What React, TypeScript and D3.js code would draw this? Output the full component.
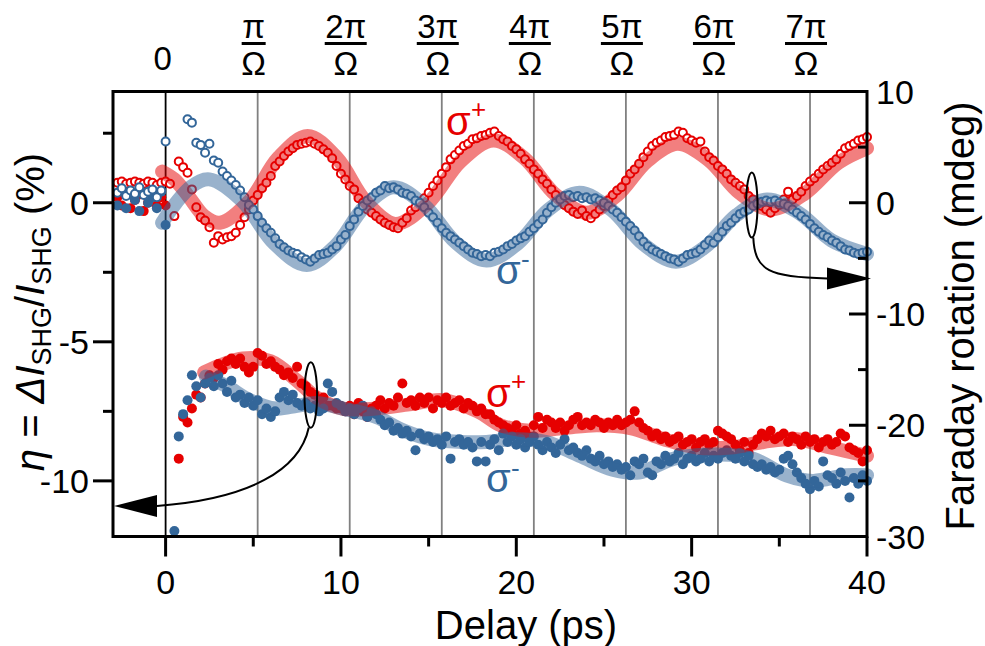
import React from "react";
import * as d3 from "d3";

// ---------- data ----------
const delays: number[] = [
  -2.75, -2.5, -2.25, -2, -1.75, -1.5, -1.25, -1, -0.75, -0.5, -0.25,
  0, 0.25, 0.5, 0.75, 1, 1.25, 1.5, 1.75, 2, 2.25, 2.5, 2.75, 3, 3.25, 3.5, 3.75,
  4, 4.25, 4.5, 4.75, 5, 5.25, 5.5, 5.75, 6, 6.25, 6.5, 6.75, 7, 7.25, 7.5, 7.75,
  8, 8.25, 8.5, 8.75, 9, 9.25, 9.5, 9.75, 10, 10.25, 10.5, 10.75, 11, 11.25, 11.5, 11.75,
  12, 12.25, 12.5, 12.75, 13, 13.25, 13.5, 13.75, 14, 14.25, 14.5, 14.75, 15, 15.25, 15.5, 15.75,
  16, 16.25, 16.5, 16.75, 17, 17.25, 17.5, 17.75, 18, 18.25, 18.5, 18.75, 19, 19.25, 19.5, 19.75,
  20, 20.25, 20.5, 20.75, 21, 21.25, 21.5, 21.75, 22, 22.25, 22.5, 22.75, 23, 23.25, 23.5, 23.75,
  24, 24.25, 24.5, 24.75, 25, 25.25, 25.5, 25.75, 26, 26.25, 26.5, 26.75, 27, 27.25, 27.5, 27.75,
  28, 28.25, 28.5, 28.75, 29, 29.25, 29.5, 29.75, 30, 30.25, 30.5, 30.75, 31, 31.25, 31.5, 31.75,
  32, 32.25, 32.5, 32.75, 33, 33.25, 33.5, 33.75, 34, 34.25, 34.5, 34.75, 35, 35.25, 35.5, 35.75,
  36, 36.25, 36.5, 36.75, 37, 37.25, 37.5, 37.75, 38, 38.25, 38.5, 38.75, 39, 39.25, 39.5, 39.75,
  40,
];

// Faraday rotation (mdeg), open circles
const faradaySigmaPlus: (number | null)[] = [
  1.8, 1.9, 1.7, 1.8, 1.9, 1.8, 1.7, 1.9, 1.8, 1.6, 1.8,
  1.9, 1.7, -1.2, 3.7, 3.2, 2.7, 1.2, -0.4, -1.3, -1.6, -2.2, -3.6, -3.0, -3.3, -3.1, -3.0,
  -2.7, -2.0, -1.3, -0.6, 0.2, 0.7, 1.3, 1.8, 2.4, 3.3, 3.7, 4.2, 4.6, 4.9, 5.2, 5.3,
  5.4, 5.5, 5.3, 5.1, 4.8, 4.5, 4.0, 3.3, 2.6, 2.1, 1.5, 1.2, 0.4, 0.0, -0.6, -0.9,
  -1.2, -1.5, -1.8, -2.0, -2.2, -2.3, -1.8, -1.4, -0.7, -0.4, 0.1, 0.4, 0.9, 1.5, 2.0, 2.6,
  3.2, 3.9, 4.3, 4.7, 5.1, 5.3, 5.7, 5.8, 6.0, 6.1, 6.3, 6.4, 6.0, 5.7, 5.5, 5.1,
  4.8, 4.4, 3.9, 3.5, 3.0, 2.6, 2.1, 1.7, 1.2, 0.7, 0.3, -0.2, -0.5, -0.8, -1.0, -0.7,
  -1.2, -1.4, -1.0, -0.6, -0.3, 0.2, 0.7, 1.1, 1.4, 2.0, 2.6, 3.0, 3.5, 4.1, 4.6, 5.1,
  5.4, 5.6, 5.9, 6.0, 6.1, 6.4, 6.3, 5.8, 5.6, 5.4, 5.5, 4.6, 4.1, 3.8, 3.3, 3.0,
  2.6, 2.1, 1.8, 1.5, 1.2, 0.6, 0.3, 0.0, -0.3, -0.6, -0.9, -0.5, -0.2, 0.3, 1.0, 0.3,
  0.6, 1.0, 1.5, 1.9, 2.2, 2.6, 3.0, 3.3, 3.6, 3.9, 4.4, 4.9, 5.1, 5.3, 5.6, 5.7,
  5.9,
];
const faradaySigmaMinus: (number | null)[] = [
  0.9, 1.3, 0.6, 1.1, 0.8, 1.4, 0.7, 1.0, 1.2, 0.5, 1.1,
  5.5, null, null, null, null, 7.5, 7.2, 5.4, 5.2, 4.5, 5.3, 3.8, 3.6, 2.8, 2.4, 2.0,
  1.6, 1.1, 0.5, -0.2, -0.6, -1.2, -1.8, -2.3, -2.7, -3.2, -3.7, -4.0, -4.3, -4.5, -4.6, -4.9,
  -5.1, -5.3, -5.0, -4.7, -4.6, -4.5, -4.2, -3.9, -3.3, -2.9, -2.1, -1.5, -0.8, -0.3, 0.2, 0.5,
  0.9, 1.1, 1.5, 1.3, 1.4, 1.2, 0.9, 0.8, 0.6, 0.2, 0.0, -0.4, -0.9, -1.3, -1.8, -2.3,
  -2.7, -3.0, -3.3, -3.6, -3.9, -4.2, -4.5, -4.6, -4.8, -4.7, -4.8, -4.5, -4.4, -4.2, -3.9, -3.7,
  -3.4, -3.2, -3.0, -2.6, -2.3, -1.9, -1.5, -0.9, -0.4, 0.0, 0.3, 0.6, 0.7, 0.5, 0.6, 0.4,
  0.5, 0.3, 0.4, 0.2, 0.0, -0.3, -0.6, -0.9, -1.3, -1.7, -2.1, -2.5, -3.0, -3.5, -3.9, -4.2,
  -4.4, -4.6, -4.8, -5.0, -5.1, -5.3, -5.0, -4.7, -4.6, -4.5, -4.2, -3.8, -3.4, -3.6, -3.1, -2.6,
  -2.1, -1.8, -1.4, -1.0, -0.8, -0.6, -0.3, -0.1, 0.1, 0.2, 0.1, 0.2, 0.0, -0.1, -0.3, -0.6,
  -0.9, -1.2, -1.5, -1.9, -2.3, -2.6, -2.9, -3.1, -3.4, -3.6, -3.9, -4.2, -4.3, -4.5, -4.6, -4.5,
  -4.4,
];

// eta = dI_SHG / I_SHG (%), filled circles
const etaSigmaPlus: (number | null)[] = [
  0.2, -0.1, 0.4, -0.2, 0.1, 0.3, -0.3, 0.0, 0.4, -0.1, 0.2,
  -0.1, null, null, -9.2, -7.7, -7.9, -7.4, -6.9, -7.0, -6.5, -6.2, -6.3, -5.8, -6.0, -5.7, -5.6,
  -5.8, -5.6, -5.9, -6.1, -5.9, -5.4, -5.5, -5.8, -5.7, -5.9, -6.0, -6.2, -6.1, -6.3, -5.9, -6.5,
  -6.6, -6.8, -6.9, -7.2, -7.0, -7.3, -7.3, -7.4, -7.4, -7.5, -7.3, -7.6, -7.2, -7.5, -7.7, -7.4,
  -7.3, -7.1, -7.4, -7.2, -7.3, -7.0, -6.5, -7.2, -7.1, -7.3, -7.0, -7.2, -7.0, -7.4, -7.1, -7.2,
  -7.0, -7.3, -7.2, -7.1, -7.4, -7.2, -7.3, -7.5, -7.4, -7.6, -7.6, -7.8, -7.9, -8.0, -8.1, -8.2,
  -8.0, -8.3, -8.2, -8.4, -8.0, -7.7, -8.1, -7.8, -7.9, -8.1, -7.9, -8.2, -8.0, -7.8, -7.7, -8.0,
  -7.9, -8.0, -7.8, -7.9, -8.1, -7.9, -8.0, -7.8, -8.0, -7.9, -7.8, -7.5, -7.9, -8.1, -8.2, -8.4,
  -8.3, -8.5, -8.4, -8.6, -8.5, -8.4, -8.7, -8.6, -8.5, -8.8, -8.6, -8.5, -8.7, -8.6, -8.2, -8.3,
  -8.4, -8.5, -8.7, -8.9, -8.6, -9.0, -8.7, -8.5, -8.3, -8.4, -8.2, -8.5, -8.4, -8.3, -8.6, -8.4,
  -8.5, -8.7, -8.4, -8.6, -8.5, -8.8, -8.6, -8.5, -8.7, -8.6, -8.3, -8.4, -8.8, -8.9, -9.0, -9.3,
  -8.9,
];
const etaSigmaMinus: (number | null)[] = [
  -0.1, 0.5, -0.2, 0.3, 0.1, -0.3, 0.6, 0.0, 0.2, -0.2, 0.4,
  -0.8, null, -11.8, -8.4, -7.6, -7.1, -6.2, -6.6, -7.0, -6.5, -6.3, -6.6, -6.2, -6.5, -6.8, -6.4,
  -7.0, -6.9, -7.2, -7.0, -7.3, -7.1, -7.6, -7.4, -7.7, -7.5, -7.0, -6.8, -7.1, -6.9, -7.2, -7.3,
  -7.2, -7.4, -7.3, -7.5, -7.4, -6.5, -6.8, -7.2, -7.3, -7.5, -7.4, -7.6, -7.4, -7.3, -7.7, -7.5,
  -7.6, -7.8, -8.0, -7.9, -8.2, -8.1, -8.3, -8.2, -8.4, -8.9, -8.3, -8.5, -8.4, -8.6, -8.5, -8.7,
  -8.4, -9.2, -8.6, -8.5, -8.7, -8.6, -8.8, -9.3, -8.6, -9.3, -8.7, -8.5, -8.9, -8.3, -8.6, -8.4,
  -8.7, -8.5, -8.8, -8.6, -8.4, -8.7, -8.9, -8.6, -8.8, -9.0, -8.7, -8.5, -8.9, -8.8, -9.0, -9.1,
  -8.9, -9.2, -9.3, -9.1, -9.4, -9.3, -9.5, -9.4, -9.6, -9.5, -9.8, -9.3, -9.4, -9.2, -9.7, -9.8,
  -9.3, -9.4, -9.1, -9.3, -9.2, -9.0, -9.4, -9.2, -9.1, -9.3, -9.2, -9.0, -9.3, -9.1, -9.2, -9.0,
  -8.9, -9.1, -9.2, -9.0, -9.3, -9.1, -9.4, -9.5, -9.4, -9.6, -9.5, -9.7, -9.6, -9.2, -9.1, -9.4,
  -9.7, -9.9, -10.1, -10.3, -10.0, -10.2, -9.3, -9.8, -9.9, -10.1, -9.7, -10.0, -10.6, -9.9, -10.1, -9.8,
  -10.0,
];

// fitted curves (thick translucent bands)
const faradayFitPlusT = [-0.2, 0.5, 1.3, 2.2, 3.1, 4.77, 6.43, 8.1, 9.77, 11.43, 13.1, 14.97, 16.83, 18.7, 20.47, 22.23, 24.0, 25.73, 27.47, 29.2, 30.97, 32.73, 34.5, 36.43, 38.37, 40.0];
const faradayFitPlus = [2.8, 2.1, 0.6, -1.2, -1.8, 0.15, 4.05, 6.0, 4.03, 0.08, -1.9, -0.03, 3.73, 5.6, 3.98, 0.73, -0.9, 0.65, 3.75, 5.3, 3.83, 0.88, -0.6, 0.8, 3.6, 4.9];
const faradayFitMinusT = [-0.2, 0.6, 1.5, 2.5, 4.35, 6.2, 8.05, 9.7, 11.35, 13.0, 14.77, 16.53, 18.3, 20.07, 21.83, 23.6, 25.43, 27.27, 29.1, 30.83, 32.57, 34.3, 36.13, 37.97, 40.0];
const faradayFitMinus = [-1.8, 0.0, 1.5, 2.1, 0.18, -3.68, -5.6, -3.85, -0.35, 1.4, -0.25, -3.55, -5.2, -3.68, -0.63, 0.9, -0.65, -3.75, -5.3, -3.9, -1.1, 0.3, -0.93, -3.38, -4.6];
const etaFitPlusT = [2.2, 3.3, 4.4, 6.0, 7.5, 8.6, 10.1, 12.0, 13.9, 15.8, 17.8, 19.1, 20.8, 22.7, 24.6, 26.5, 28.4, 30.3, 32.2, 34.1, 36.0, 37.9, 40.0];
const etaFitPlus = [-6.1, -5.8, -5.6, -5.7, -6.4, -7.0, -7.4, -7.4, -7.25, -7.1, -7.5, -8.0, -8.2, -8.1, -8.0, -8.1, -8.5, -8.8, -8.8, -8.6, -8.5, -8.8, -9.1];
const etaFitMinusT = [2.3, 3.5, 4.8, 6.3, 7.5, 8.6, 10.1, 12.0, 13.6, 15.1, 16.8, 18.3, 19.8, 21.7, 23.6, 25.5, 27.0, 29.0, 31.6, 33.5, 35.4, 36.9, 38.8, 40.0];
const etaFitMinus = [-6.25, -6.6, -7.1, -7.4, -7.3, -7.2, -7.4, -7.7, -8.2, -8.5, -8.6, -8.6, -8.5, -8.6, -9.1, -9.6, -9.7, -9.2, -9.05, -9.2, -9.8, -10.0, -9.8, -9.8];

// axes
const xTicksMajor = [0, 10, 20, 30, 40];
const xTicksMinor = [5, 15, 25, 35];
const leftTicksMajor = [0, -5, -10];
const leftTicksMinor = [2.5, -2.5, -7.5];
const rightTicksMajor = [10, 0, -10, -20, -30];
const rightTicksMinor = [5, -5, -15, -25];
const halfPeriodPs = 5.25; // pi / Omega
const topLabelNumerators = ["π", "2π", "3π", "4π", "5π", "6π", "7π"];

// ---------- chart ----------
const W = 985;
const H = 646;
const RED = "#e60000";
const BLUE = "#336699";
const FONT = "'Liberation Sans', Arial, sans-serif";

export default function App() {
  const left = 113, right = 867, top = 91.5, bottom = 536.5;
  const x = d3.scaleLinear().domain([-3, 40]).range([left, right]);
  const yL = d3.scaleLinear().domain([-12, 4]).range([bottom, top]);
  const yR = d3.scaleLinear().domain([-30, 10]).range([bottom, top]);

  const band = (ts: number[], vs: number[], ys: d3.ScaleLinear<number, number>) =>
    d3.line<number>()
      .x((_, i) => x(ts[i]))
      .y((v) => ys(v))
      .curve(d3.curveCatmullRom.alpha(0.5))(vs) || "";

  const pts = (vs: (number | null)[]) =>
    vs.map((v, i) => ({ t: delays[i], v })).filter((p) => p.v !== null) as { t: number; v: number }[];

  const gridK = topLabelNumerators.map((_, i) => i + 1);

  // annotation anchors via scales
  const e1x = x(33.43), e1y = yR(-0.2);
  const e2x = x(8.28), e2y = yL(-6.91);
  const arrowRY = yR(-6.8);
  const arrowLY = yL(-10.9);

  return (
    <svg width={W} height={H} style={{ position: "absolute", left: 0, top: 0, background: "#fff" }} fontFamily={FONT}>
      <rect x={0} y={0} width={W} height={H} fill="#fff" />
      {/* grid lines */}
      {gridK.map((k) => (
        <line key={k} x1={x(k * halfPeriodPs)} x2={x(k * halfPeriodPs)} y1={top} y2={bottom} stroke="#808080" strokeWidth={1.8} />
      ))}
      <line x1={x(0)} x2={x(0)} y1={top} y2={bottom} stroke="#000" strokeWidth={1.8} />

      {/* filled dots (eta) */}
      {pts(etaSigmaPlus).map((p, i) => (
        <circle key={"er" + i} cx={x(p.t)} cy={yL(p.v)} r={5} fill={RED} />
      ))}
      {pts(etaSigmaMinus).map((p, i) => (
        <circle key={"eb" + i} cx={x(p.t)} cy={yL(p.v)} r={5} fill={BLUE} />
      ))}
      {/* open circles (Faraday) */}
      {pts(faradaySigmaPlus).map((p, i) => (
        <circle key={"fr" + i} cx={x(p.t)} cy={yR(p.v)} r={4} fill="#fff" stroke={RED} strokeWidth={2} />
      ))}
      {pts(faradaySigmaMinus).map((p, i) => (
        <circle key={"fb" + i} cx={x(p.t)} cy={yR(p.v)} r={4} fill="#fff" stroke={BLUE} strokeWidth={2} />
      ))}

      {/* fit bands */}
      <g fill="none" strokeWidth={14} strokeLinecap="round" strokeLinejoin="round">
        <path d={band(faradayFitPlusT, faradayFitPlus, yR)} stroke={RED} strokeOpacity={0.5} />
        <path d={band(faradayFitMinusT, faradayFitMinus, yR)} stroke={BLUE} strokeOpacity={0.5} />
        <path d={band(etaFitPlusT, etaFitPlus, yL)} stroke={RED} strokeOpacity={0.5} />
        <path d={band(etaFitMinusT, etaFitMinus, yL)} stroke={BLUE} strokeOpacity={0.5} />
      </g>

      {/* ellipses and arrows */}
      <ellipse cx={e1x} cy={e1y} rx={5.7} ry={32.5} fill="none" stroke="#000" strokeWidth={2} />
      <path d={`M${e1x + 1.5},${e1y + 32.5} C${e1x + 3},${e1y + 66} ${e1x + 18},${arrowRY - 1} ${827},${arrowRY}`} fill="none" stroke="#000" strokeWidth={2} />
      <polygon points={`827,${arrowRY - 11} 827,${arrowRY + 11} 871,${arrowRY}`} fill="#000" />
      <ellipse cx={e2x} cy={e2y} rx={6.3} ry={32.8} fill="none" stroke="#000" strokeWidth={2} />
      <path d={`M${e2x - 2},${e2y + 32.5} C${e2x - 11},${e2y + 75} ${e2x - 61},${arrowLY - 7} ${157},${arrowLY}`} fill="none" stroke="#000" strokeWidth={2} />
      <polygon points={`157,${arrowLY - 11} 157,${arrowLY + 11} 114,${arrowLY}`} fill="#000" />

      {/* sigma labels */}
      <text x={446} y={135} fontSize={40} fill={RED}>σ</text>
      <text x={471} y={118} fontSize={26} fill={RED}>+</text>
      <text x={496} y={284} fontSize={40} fill={BLUE}>σ</text>
      <text x={521} y={268} fontSize={26} fill={BLUE}>-</text>
      <text x={486} y={407} fontSize={40} fill={RED}>σ</text>
      <text x={511} y={390} fontSize={26} fill={RED}>+</text>
      <text x={486} y={492} fontSize={40} fill={BLUE}>σ</text>
      <text x={511} y={477} fontSize={26} fill={BLUE}>-</text>

      {/* frame */}
      <rect x={left} y={top} width={right - left} height={bottom - top} fill="none" stroke="#000" strokeWidth={3} />

      {/* bottom axis */}
      {xTicksMajor.map((t) => (
        <g key={"xm" + t}>
          <line x1={x(t)} x2={x(t)} y1={bottom} y2={bottom + 20} stroke="#000" strokeWidth={3} />
          <text x={x(t)} y={594} fontSize={34} textAnchor="middle">{t}</text>
        </g>
      ))}
      {xTicksMinor.map((t) => (
        <line key={"xn" + t} x1={x(t)} x2={x(t)} y1={bottom} y2={bottom + 10} stroke="#000" strokeWidth={3} />
      ))}
      <text x={526} y={639} fontSize={40} textAnchor="middle">Delay (ps)</text>

      {/* left axis */}
      {leftTicksMajor.map((v) => (
        <g key={"lm" + v}>
          <line x1={left - 20} x2={left} y1={yL(v)} y2={yL(v)} stroke="#000" strokeWidth={3} />
          <text x={89} y={yL(v)} dy="0.36em" fontSize={34} textAnchor="end">{v}</text>
        </g>
      ))}
      {leftTicksMinor.map((v) => (
        <line key={"ln" + v} x1={left - 10} x2={left} y1={yL(v)} y2={yL(v)} stroke="#000" strokeWidth={3} />
      ))}
      <text transform={`translate(44,312) rotate(-90)`} fontSize={40} textAnchor="middle">
        <tspan fontStyle="italic">η</tspan>
        <tspan>{" = "}</tspan>
        <tspan fontStyle="italic">ΔI</tspan>
        <tspan fontSize={27} dy={7}>SHG</tspan>
        <tspan dy={-7}>/</tspan>
        <tspan fontStyle="italic">I</tspan>
        <tspan fontSize={27} dy={7}>SHG</tspan>
        <tspan dy={-7}>{" (%)"}</tspan>
      </text>

      {/* right axis */}
      {rightTicksMajor.map((v) => (
        <g key={"rm" + v}>
          <line x1={right - 18} x2={right} y1={yR(v)} y2={yR(v)} stroke="#000" strokeWidth={3} />
          <text x={876} y={yR(v)} dy="0.36em" fontSize={34} textAnchor="start">{v}</text>
        </g>
      ))}
      {rightTicksMinor.map((v) => (
        <line key={"rn" + v} x1={right - 9} x2={right} y1={yR(v)} y2={yR(v)} stroke="#000" strokeWidth={3} />
      ))}
      <text transform={`translate(974,316) rotate(-90)`} fontSize={40} textAnchor="middle">Faraday rotation (mdeg)</text>

      {/* top labels: multiples of pi/Omega */}
      <text x={x(0) - 3} y={70} fontSize={33} textAnchor="middle">0</text>
      {topLabelNumerators.map((lab, i) => {
        const cx = x((i + 1) * halfPeriodPs) - 4;
        const w = i === 0 ? 24 : 42;
        return (
          <g key={"tl" + i}>
            <text x={cx} y={38} fontSize={33} textAnchor="middle">{lab}</text>
            <line x1={cx - w / 2} x2={cx + w / 2} y1={43.5} y2={43.5} stroke="#000" strokeWidth={3} />
            <text x={cx} y={75} fontSize={33} textAnchor="middle">Ω</text>
          </g>
        );
      })}
    </svg>
  );
}
